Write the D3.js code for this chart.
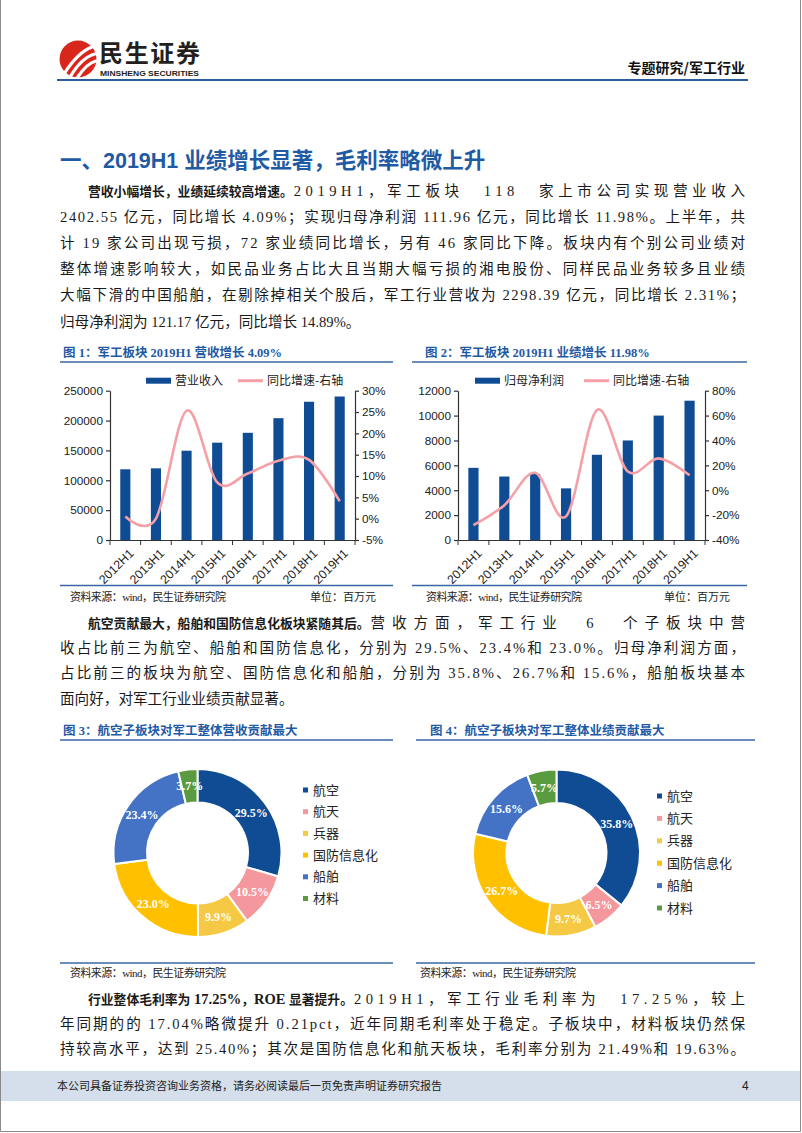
<!DOCTYPE html>
<html><head><meta charset="utf-8">
<script src="https://cdn.jsdelivr.net/npm/d3@7"></script>
<style>body{margin:0;background:#fff}svg{display:block}</style>
</head><body>
<svg id="page" width="802" height="1133"></svg>
<script>
// ---------- DATA ----------
const years = ["2012H1","2013H1","2014H1","2015H1","2016H1","2017H1","2018H1","2019H1"];
const revenue = [118400,120000,149500,163000,179500,204000,231500,240255];
const revenueGrowth = [0.5,0.0,25.3,8.5,10.6,13.6,13.8,4.09];
const revLeftTicks = [0,50000,100000,150000,200000,250000];
const revRightTicks = [-5,0,5,10,15,20,25,30];
const profit = [5800,5100,5300,4150,6850,8000,10000,11196];
const profitGrowth = [-28,-12,14,-21,64.5,15,25.6,11.98];
const profLeftTicks = [0,2000,4000,6000,8000,10000,12000];
const profRightTicks = [-40,-20,0,20,40,60,80];
const sectors = ["航空","航天","兵器","国防信息化","船舶","材料"];
const revenueShare = [29.5,10.5,9.9,23.0,23.4,3.7];
const profitShare = [35.8,6.5,9.7,26.7,15.6,5.7];
const sectorColors = ["#0f4c94","#f4989d","#f6c944","#ffc000","#4472c4","#5b9b3f"];

const para1 = [
  [{t:"营收小幅增长，业绩延续较高增速。",b:true},{t:"2019H1，军工板块 118 家上市公司实现营业收入"}],
  [{t:"2402.55 亿元，同比增长 4.09%；实现归母净利润 111.96 亿元，同比增长 11.98%。上半年，共"}],
  [{t:"计 19 家公司出现亏损，72 家业绩同比增长，另有 46 家同比下降。板块内有个别公司业绩对"}],
  [{t:"整体增速影响较大，如民品业务占比大且当期大幅亏损的湘电股份、同样民品业务较多且业绩"}],
  [{t:"大幅下滑的中国船舶，在剔除掉相关个股后，军工行业营收为 2298.39 亿元，同比增长 2.31%；"}],
  [{t:"归母净利润为 121.17 亿元，同比增长 14.89%。"}]
];
const para2 = [
  [{t:"航空贡献最大，船舶和国防信息化板块紧随其后。",b:true},{t:"营收方面，军工行业 6 个子板块中营"}],
  [{t:"收占比前三为航空、船舶和国防信息化，分别为 29.5%、23.4%和 23.0%。归母净利润方面，"}],
  [{t:"占比前三的板块为航空、国防信息化和船舶，分别为 35.8%、26.7%和 15.6%，船舶板块基本"}],
  [{t:"面向好，对军工行业业绩贡献显著。"}]
];
const para3 = [
  [{t:"行业整体毛利率为 17.25%，ROE 显著提升。",b:true},{t:"2019H1，军工行业毛利率为 17.25%，较上"}],
  [{t:"年同期的的 17.04%略微提升 0.21pct，近年同期毛利率处于稳定。子板块中，材料板块仍然保"}],
  [{t:"持较高水平，达到 25.40%；其次是国防信息化和航天板块，毛利率分别为 21.49%和 19.63%。"}]
];

// ---------- STYLE ----------
const SERIF = '"Liberation Serif","Noto Sans CJK SC",serif';
const SANS = '"Liberation Sans","Noto Sans CJK SC",sans-serif';
const CJK = '"Noto Sans CJK SC",sans-serif';
const BLUE = "#1f5aa5";
const BAR = "#0f4c94";
const PINK = "#f5a0a6";

const svg = d3.select("#page");

// page border
svg.append("path").attr("d","M0.5,0V1131.5H800.5V0").attr("fill","none").attr("stroke","#8a8a8a").attr("stroke-width",1);

// ---------- HEADER ----------
const logo = svg.append("g");
logo.append("circle").attr("cx",78).attr("cy",59).attr("r",18.5).attr("fill","#d9261c");
[[64,74,78,52,92,47],[70,77,82,57,95,54],[77,78,87,63,96,61]].forEach(p=>{
  logo.append("path").attr("d",`M${p[0]},${p[1]}Q${p[2]},${p[3]} ${p[4]},${p[5]}`)
    .attr("fill","none").attr("stroke","#fff").attr("stroke-width",3.2).attr("stroke-linecap","round");
});
svg.append("text").attr("x",99).attr("y",62).attr("font-family",CJK).attr("font-weight","bold")
  .attr("font-size",24).attr("fill","#231f20").attr("textLength",101).text("民生证券");
svg.append("text").attr("x",100).attr("y",75.5).attr("font-family",SANS).attr("font-weight","bold")
  .attr("font-size",8).attr("fill","#231f20").attr("textLength",99).attr("lengthAdjust","spacingAndGlyphs").text("MINSHENG SECURITIES");
svg.append("text").attr("x",745).attr("y",73).attr("text-anchor","end").attr("font-family",CJK)
  .attr("font-weight","bold").attr("font-size",14).attr("fill","#111").text("专题研究/军工行业");
svg.append("line").attr("x1",57).attr("x2",748).attr("y1",80).attr("y2",80).attr("stroke","#2b5d9b").attr("stroke-width",2);

// ---------- HEADING ----------
svg.append("text").attr("x",60).attr("y",168).attr("font-family",SANS).attr("font-weight","bold")
  .attr("font-size",21.5).attr("fill",BLUE).text("一、2019H1 业绩增长显著，毛利率略微上升");

// ---------- PARAGRAPHS ----------
function paragraph(lines, y0, dy, justifyLast){
  lines.forEach((parts,i)=>{
    const y = y0 + i*dy;
    let x = i===0 ? 88 : 60;
    const right = 745;
    const justify = i < lines.length-1 || justifyLast;
    parts.forEach((p,j)=>{
      const t = svg.append("text").attr("x",x).attr("y",y).attr("fill","#1a1a1a");
      if (p.b){
        const runs = p.t.match(/[\x00-\xff]+|[^\x00-\xff]+/g);
        runs.forEach(r=>{
          const latin = /^[\x00-\xff]+$/.test(r);
          t.append("tspan").attr("font-family",latin?SERIF:CJK).attr("font-weight","bold")
            .attr("font-size",latin?14.5:12.8).text(r);
        });
      } else {
        t.attr("font-family",SERIF).attr("font-size",14.6).text(p.t);
      }
      const w = t.node().getComputedTextLength();
      if (j===parts.length-1 && justify){
        const target = right - x;
        const extra = target - w;
        const nSp = (p.t.match(/ /g)||[]).length;
        if (nSp && extra / p.t.length > 2.5){
          t.attr("word-spacing", Math.min(12, extra*0.4/nSp));
        }
        t.attr("textLength", target).attr("lengthAdjust","spacing");
        x = right;
      } else x += w + 1;
    });
  });
}
paragraph(para1, 195.5, 26.2, false);
paragraph(para2, 627.5, 25.4, false);
paragraph(para3, 1003.5, 25, true);

// ---------- BAR + LINE CHARTS ----------
function barLine(cfg){
  const g = svg.append("g");
  g.append("text").attr("x",cfg.titleX).attr("y",356.5).attr("font-family",SERIF).attr("font-weight","bold")
    .attr("font-size",12.5).attr("fill",BLUE).text(cfg.title);
  g.append("line").attr("x1",cfg.frame[0]).attr("x2",cfg.frame[1]).attr("y1",362).attr("y2",362).attr("stroke","#3a67a3").attr("stroke-width",1.5);
  g.append("line").attr("x1",cfg.frame[0]).attr("x2",cfg.frame[1]).attr("y1",585.5).attr("y2",585.5).attr("stroke","#3a67a3").attr("stroke-width",1.5);
  g.append("text").attr("x",cfg.srcX).attr("y",600.5).attr("font-family",SERIF).attr("font-size",11).attr("fill","#222")
    .attr("textLength",156).attr("lengthAdjust","spacing").text("资料来源：wind，民生证券研究院");
  g.append("text").attr("x",cfg.unitX).attr("y",600.5).attr("text-anchor","end").attr("font-family",SERIF).attr("font-size",11).attr("fill","#222").text("单位：百万元");

  const x = d3.scaleBand().domain(years).range([cfg.left,cfg.right]).padding(0);
  const yL = d3.scaleLinear().domain(cfg.leftDomain).range([540,390.7]);
  const yR = d3.scaleLinear().domain(cfg.rightDomain).range([540,390.7]);
  const bw = x.step()*0.33;

  g.selectAll("rect.bar").data(cfg.bars).join("rect").attr("class","bar")
    .attr("x",(d,i)=>x(years[i])+x.step()/2-bw/2).attr("width",bw)
    .attr("y",d=>yL(d)).attr("height",d=>540-yL(d)).attr("fill",BAR);

  const axL = g.append("g").attr("transform",`translate(${cfg.left},0)`)
    .call(d3.axisLeft(yL).tickValues(cfg.leftTicks).tickSize(4).tickSizeOuter(0).tickPadding(3).tickFormat(d3.format("d")));
  const axR = g.append("g").attr("transform",`translate(${cfg.right},0)`)
    .call(d3.axisRight(yR).tickValues(cfg.rightTicks).tickSize(4).tickSizeOuter(0).tickPadding(3).tickFormat(d=>d+"%"));
  const axB = g.append("g").attr("transform","translate(0,540)")
    .call(d3.axisBottom(x).tickSize(0).tickSizeOuter(0));
  g.selectAll("line.bt").data(d3.range(years.length+1)).join("line").attr("class","bt")
    .attr("x1",i=>cfg.left+i*x.step()).attr("x2",i=>cfg.left+i*x.step()).attr("y1",540).attr("y2",545)
    .attr("stroke","#333");
  [axL,axR,axB].forEach(a=>{
    a.selectAll("path,line").attr("stroke","#333").attr("stroke-width",1.2);
    a.selectAll("text").attr("font-family",SANS).attr("font-size",11.8).attr("fill","#222");
  });
  axB.selectAll(".tick text").attr("text-anchor","end").attr("dy","0.35em").attr("font-size",12.3)
    .attr("transform","translate(4,9) rotate(-45)");

  const line = d3.line().x((d,i)=>x(years[i])+x.step()/2).y(d=>yR(d)).curve(d3.curveCardinal);
  g.append("path").attr("d",line(cfg.growth)).attr("fill","none").attr("stroke",PINK).attr("stroke-width",2.6);

  const ly = 380.7;
  g.append("rect").attr("x",cfg.leg[0]).attr("y",ly-3).attr("width",25).attr("height",6).attr("fill",BAR);
  g.append("text").attr("x",cfg.leg[0]+29).attr("y",ly+4.5).attr("font-family",CJK).attr("font-size",12).attr("fill","#222").text(cfg.barName);
  g.append("line").attr("x1",cfg.leg[1]).attr("x2",cfg.leg[1]+25).attr("y1",ly).attr("y2",ly).attr("stroke",PINK).attr("stroke-width",3);
  g.append("text").attr("x",cfg.leg[1]+29).attr("y",ly+4.5).attr("font-family",CJK).attr("font-size",12).attr("fill","#222").text("同比增速-右轴");
}

barLine({title:"图 1：军工板块 2019H1 营收增长 4.09%", titleX:63, frame:[60,393], srcX:70, unitX:376,
  left:110, right:355, leftDomain:[0,250000], rightDomain:[-5,30], leftTicks:revLeftTicks, rightTicks:revRightTicks,
  bars:revenue, growth:revenueGrowth, leg:[146,238], barName:"营业收入"});
barLine({title:"图 2：军工板块 2019H1 业绩增长 11.98%", titleX:425, frame:[412,747], srcX:426, unitX:730,
  left:458, right:705, leftDomain:[0,12000], rightDomain:[-40,80], leftTicks:profLeftTicks, rightTicks:profRightTicks,
  bars:profit, growth:profitGrowth, leg:[475,584], barName:"归母净利润"});

// ---------- DONUTS ----------
function donut(cfg){
  const g = svg.append("g");
  g.append("text").attr("x",cfg.titleX).attr("y",734.5).attr("font-family",SERIF).attr("font-weight","bold")
    .attr("font-size",12.5).attr("fill",BLUE).text(cfg.title);
  g.append("line").attr("x1",cfg.frame[0]).attr("x2",cfg.frame[1]).attr("y1",740).attr("y2",740).attr("stroke","#3a67a3").attr("stroke-width",1.5);
  g.append("line").attr("x1",cfg.frame[0]).attr("x2",cfg.frame[1]).attr("y1",963).attr("y2",963).attr("stroke","#3a67a3").attr("stroke-width",1.5);
  g.append("text").attr("x",cfg.srcX).attr("y",976.5).attr("font-family",SERIF).attr("font-size",11).attr("fill","#222")
    .attr("textLength",156).attr("lengthAdjust","spacing").text("资料来源：wind，民生证券研究院");

  const pie = d3.pie().sort(null).value(d=>d)(cfg.values);
  const arc = d3.arc().innerRadius(cfg.ri).outerRadius(cfg.ro);
  const c = g.append("g").attr("transform",`translate(${cfg.cx},${cfg.cy})`);
  c.selectAll("path").data(pie).join("path").attr("d",arc).attr("fill",(d,i)=>sectorColors[i])
    .attr("stroke","#fff").attr("stroke-width",2);
  c.selectAll("text").data(pie).join("text").attr("transform",d=>`translate(${arc.centroid(d)})`)
    .attr("text-anchor","middle").attr("dy","0.35em").attr("font-family",SERIF).attr("font-weight","bold")
    .attr("font-size",12).attr("fill","#fff").text(d=>d3.format(".1f")(d.data)+"%");

  sectors.forEach((s,i)=>{
    const y = cfg.legY + i*cfg.legDy;
    g.append("rect").attr("x",cfg.legX).attr("y",y-2.5).attr("width",5).attr("height",5).attr("fill",sectorColors[i]);
    g.append("text").attr("x",cfg.legX+10).attr("y",y+4.6).attr("font-family",CJK).attr("font-size",13).attr("fill","#222").text(s);
  });
}
donut({title:"图 3：航空子板块对军工整体营收贡献最大", titleX:63, frame:[60,393], srcX:70,
  cx:197.5, cy:853, ro:84, ri:50.5, values:revenueShare, legX:303, legY:790, legDy:21.7});
donut({title:"图 4：航空子板块对军工整体业绩贡献最大", titleX:430, frame:[416,755], srcX:420,
  cx:556.5, cy:853, ro:83.5, ri:50, values:profitShare, legX:657, legY:796, legDy:22.4});

// ---------- FOOTER ----------
svg.append("rect").attr("x",1).attr("y",1071).attr("width",799).attr("height",30).attr("fill","#d4dfeb");
svg.append("text").attr("x",57).attr("y",1090).attr("font-family",CJK).attr("font-size",11).attr("fill","#222")
  .text("本公司具备证券投资咨询业务资格，请务必阅读最后一页免责声明证券研究报告");
svg.append("text").attr("x",742).attr("y",1090).attr("font-family",SANS).attr("font-size",12).attr("fill","#222").text("4");
</script>
</body></html>
